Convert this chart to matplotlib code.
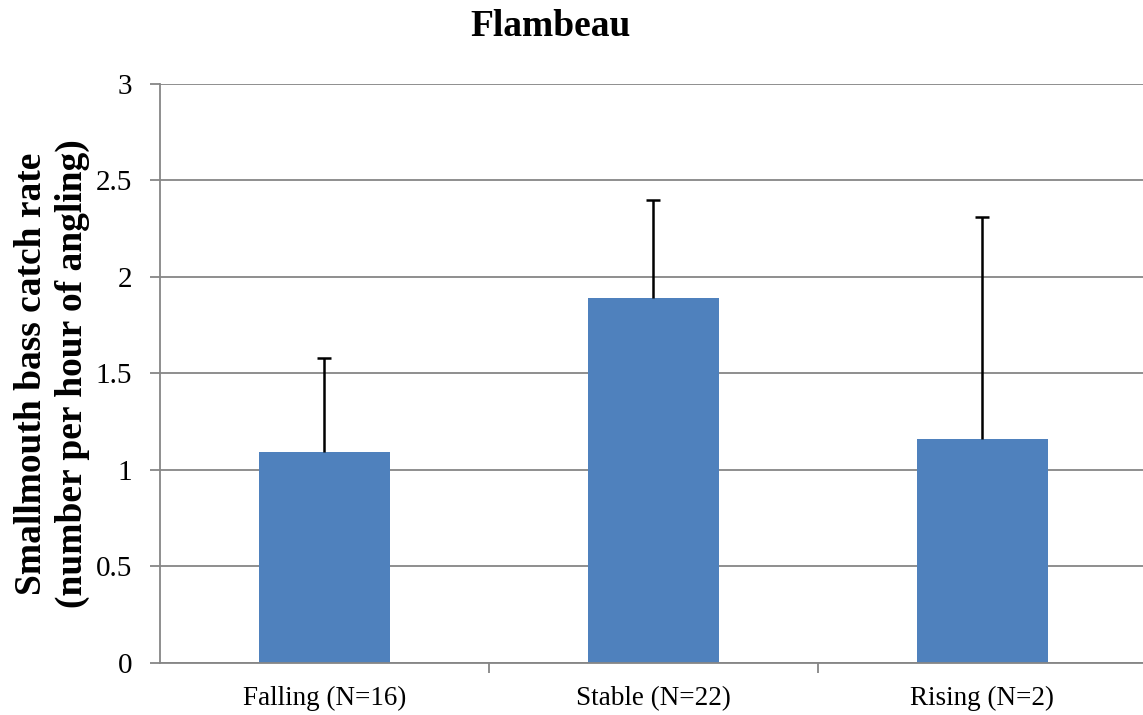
import matplotlib
matplotlib.use("Agg")
import matplotlib.pyplot as plt
import numpy as np

categories = ["Falling (N=16)", "Stable (N=22)", "Rising (N=2)"]
catch_rate = [1.09, 1.89, 1.16]
error_upper = [0.49, 0.51, 1.15]
yticks = [0, 0.5, 1, 1.5, 2, 2.5, 3]
ytick_labels = ["0", "0.5", "1", "1.5", "2", "2.5", "3"]

plt.rcParams['font.family'] = ['Liberation Serif', 'DejaVu Serif']

W, H = 1143, 715
fig = plt.figure(figsize=(W / 100, H / 100), dpi=100)
ax = fig.add_axes([160 / W, 1 - 662.7 / H, (1147 - 160) / W, (662.7 - 84) / H])

grid_c = '#868686'
bar_c = '#4F81BD'

x = np.arange(len(categories))
ax.bar(x, catch_rate, width=0.40, color=bar_c, zorder=2)
_, caps, _ = ax.errorbar(x, catch_rate, yerr=[np.zeros(len(x)), error_upper], fmt='none',
                         ecolor='black', elinewidth=1.8, capsize=5, capthick=1.8, zorder=3)
for c in caps:
    if np.allclose(c.get_ydata(), catch_rate):
        c.set_visible(False)

ax.set_xlim(-0.5, 2.5)
ax.set_ylim(0, 3)
ax.set_yticks(yticks)
ax.set_yticklabels(ytick_labels, fontsize=21)
ax.yaxis.grid(True, color=grid_c, linewidth=1.3, zorder=0)
ax.set_axisbelow(True)

# category labels centered on bars, ticks at boundaries
ax.set_xticks([0.5, 1.5])
ax.set_xticklabels([])
ax.set_xticks(x, minor=True)
ax.set_xticklabels(categories, minor=True, fontsize=19.5)
ax.tick_params(axis='x', which='minor', length=0, pad=17)
ax.tick_params(axis='x', which='major', length=7, width=1.3, color=grid_c, direction='out')
ax.tick_params(axis='y', length=7, width=1.3, color=grid_c, direction='out', pad=13)

for s in ['top', 'right']:
    ax.spines[s].set_visible(False)
for s in ['left', 'bottom']:
    ax.spines[s].set_color(grid_c)
    ax.spines[s].set_linewidth(1.3)

ax.set_ylabel("Smallmouth bass catch rate\n(number per hour of angling)",
              fontsize=27, fontweight='bold', linespacing=1.2,
              va='center', ha='center')
ax.yaxis.set_label_coords((52 - 160) / 987, 0.5)

fig.text(551 / W, 1 - 26 / H, "Flambeau", ha='center', va='center',
         fontsize=27, fontweight='bold')

fig.savefig("out.png", dpi=100)
